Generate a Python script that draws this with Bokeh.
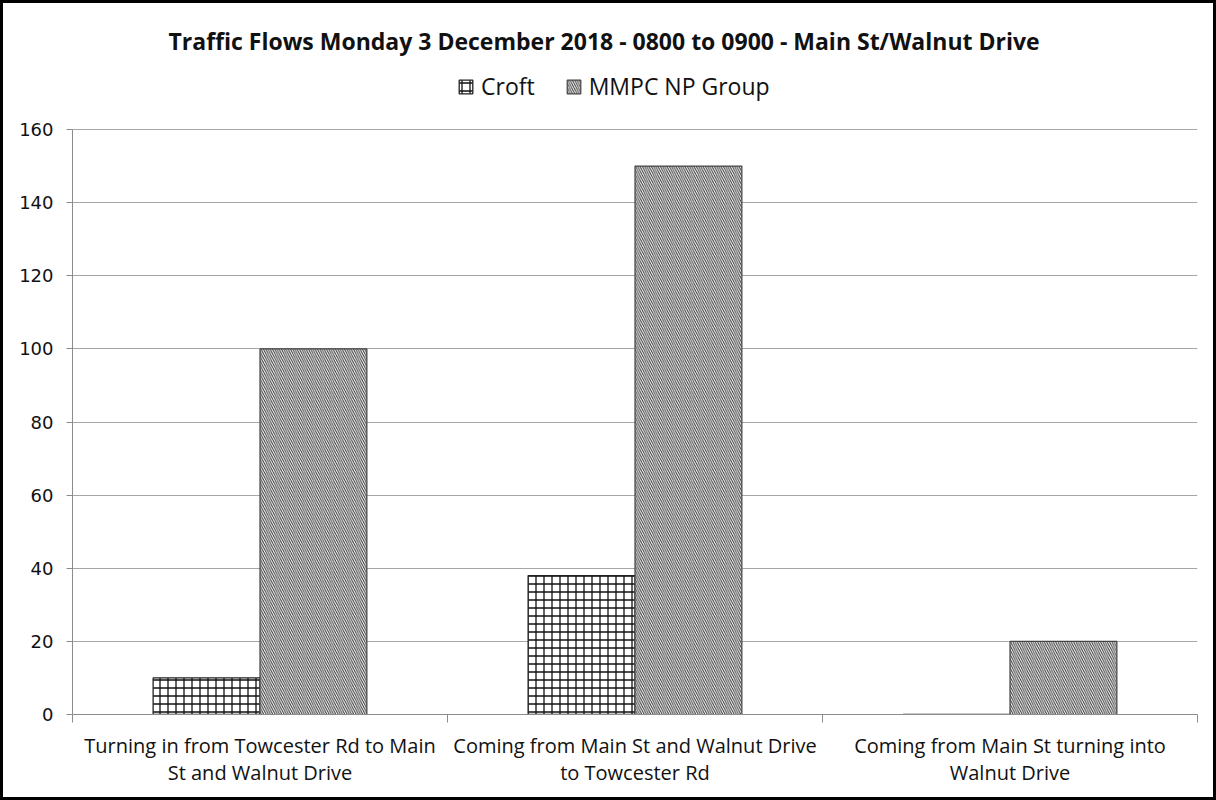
from bokeh.plotting import figure
from bokeh.models import (Range1d, LinearAxis, FixedTicker, Legend, LegendItem, ColumnDataSource)
from bokeh.transform import dodge
from bokeh.embed import file_html
from bokeh.resources import INLINE

categories = ["Turning in from Towcester Rd to Main\nSt and Walnut Drive",
              "Coming from Main St and Walnut Drive\nto Towcester Rd",
              "Coming from Main St turning into\nWalnut Drive"]
croft = [10, 38, 0]
mmpc = [100, 150, 20]
y_ticks = [0, 20, 40, 60, 80, 100, 120, 140, 160]
series_names = ["Croft", "MMPC NP Group"]
title_text = "Traffic Flows Monday 3 December 2018 - 0800 to 0900 - Main St/Walnut Drive"

n = len(categories)
centers = [i + 0.5 for i in range(n)]
bounds = [float(i) for i in range(n + 1)]
src = ColumnDataSource(dict(xc=centers, croft=croft, mmpc=mmpc))

y_top = 160 + 67 * 160 / 585.0  # headroom inside the frame for the legend

p = figure(width=1216, height=800, x_range=Range1d(0, n), y_range=Range1d(0, y_top),
           output_backend="svg", toolbar_location=None, x_axis_location=None, y_axis_location=None,
           min_border_left=69, min_border_right=22, min_border_top=59, min_border_bottom=89)
p.styles = {"border": "3px solid black"}
p.outline_line_color = None
p.background_fill_color = "white"
p.border_fill_color = "white"

grey = "#8c8c8c"

r1 = p.vbar(x=dodge("xc", -0.1425), top="croft", width=0.285, source=src,
            fill_color="white", line_color="#222222", line_width=1.3,
            hatch_pattern="+", hatch_color="#111111", hatch_scale=8, hatch_weight=1.3)
r2 = p.vbar(x=dodge("xc", 0.1425), top="mmpc", width=0.285, source=src,
            fill_color="white", line_color="#444444", line_width=1.2,
            hatch_pattern="\\", hatch_color="#333333", hatch_scale=4.5, hatch_weight=1.0)

# y axis
yax = LinearAxis(ticker=FixedTicker(ticks=y_ticks), bounds=(0, 160))
yax.axis_line_color = grey
yax.major_tick_line_color = grey
yax.major_tick_out = 6
yax.major_tick_in = 0
yax.minor_tick_line_color = None
yax.major_label_text_font = "DejaVu Sans"
yax.major_label_text_font_size = "18px"
yax.major_label_text_color = "#111111"
yax.major_label_standoff = 13
p.add_layout(yax, "left")

p.ygrid.ticker = FixedTicker(ticks=y_ticks)
p.ygrid.grid_line_color = "#a6a6a6"
p.xgrid.grid_line_color = None

# x axis: labels at category centres, ticks at category boundaries
xax = LinearAxis(ticker=FixedTicker(ticks=centers, minor_ticks=bounds))
xax.axis_line_color = grey
xax.major_tick_line_color = None
xax.minor_tick_line_color = grey
xax.minor_tick_out = 8
xax.minor_tick_in = 0
xax.major_label_overrides = {c: lab for c, lab in zip(centers, categories)}
xax.major_label_text_font = "Open Sans"
xax.major_label_text_font_size = "20px"
xax.major_label_text_line_height = 1.0
xax.major_label_text_color = "#111111"
xax.major_label_standoff = 9
p.add_layout(xax, "below")

p.title.text = title_text
p.title.align = "left"
p.title.offset = 96
p.title.standoff = 12
p.title.text_font = "Open Sans"
p.title.text_font_style = "bold"
p.title.text_font_size = "23px"
p.title.text_color = "#111111"

legend = Legend(items=[LegendItem(label=series_names[0], renderers=[r1]),
                       LegendItem(label=series_names[1], renderers=[r2])],
                orientation="horizontal", location=(385, 612))
legend.border_line_color = None
legend.background_fill_alpha = 0
legend.label_text_font = "Open Sans"
legend.label_text_font_size = "23px"
legend.label_text_color = "#111111"
legend.glyph_width = 17
legend.glyph_height = 17
legend.spacing = 30
legend.label_standoff = 7
legend.padding = 4
p.add_layout(legend, "center")

open("out.html", "w").write(file_html(p, INLINE))
